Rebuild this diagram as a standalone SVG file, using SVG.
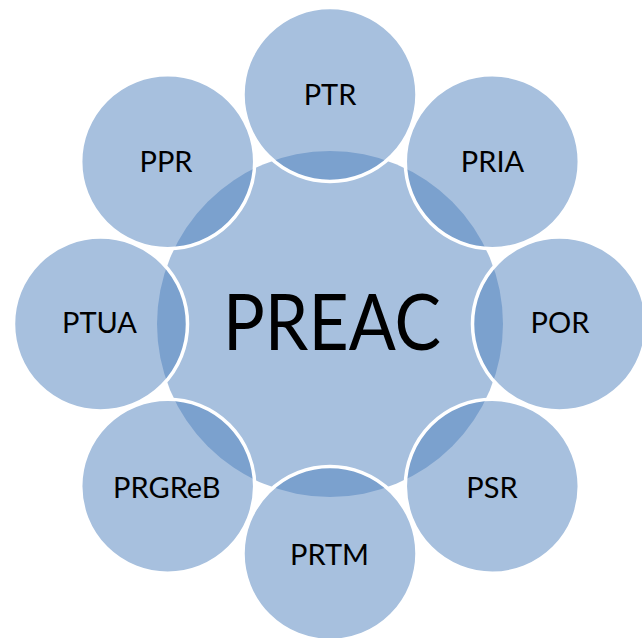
<svg xmlns="http://www.w3.org/2000/svg" width="642" height="638" viewBox="0 0 642 638">
<style>
.c{fill:#4f81bd;fill-opacity:0.5}
.o{fill:#4f81bd;fill-opacity:0.5;stroke:#ffffff;stroke-width:3.5}
.t{font-family:Lato,"Open Sans",sans-serif;font-size:29px;fill:#000;text-anchor:middle}
.big{font-family:Lato,"Open Sans",sans-serif;font-size:78px;fill:#000;text-anchor:middle}
</style>
<rect width="642" height="638" fill="#ffffff"/>
<g id="center"><circle class="c" cx="330" cy="324" r="173"/><text class="big" x="332" y="350" textLength="218" lengthAdjust="spacingAndGlyphs">PREAC</text></g>
<g id="ptr"><circle class="o" cx="330" cy="94.5" r="87"/><text class="t" x="330" y="105">PTR</text></g>
<g id="pria"><circle class="o" cx="492.3" cy="161.7" r="87"/><text class="t" x="492.5" y="172">PRIA</text></g>
<g id="por"><circle class="o" cx="559.5" cy="324" r="87"/><text class="t" x="560" y="333">POR</text></g>
<g id="psr"><circle class="o" cx="492.3" cy="486.3" r="87"/><text class="t" x="492" y="498">PSR</text></g>
<g id="prtm"><circle class="o" cx="330" cy="553.5" r="87"/><text class="t" x="329.5" y="565">PRTM</text></g>
<g id="prgreb"><circle class="o" cx="167.7" cy="486.3" r="87"/><text class="t" x="166.8" y="498">PRGReB</text></g>
<g id="ptua"><circle class="o" cx="100.5" cy="324" r="87"/><text class="t" x="99.5" y="333">PTUA</text></g>
<g id="ppr"><circle class="o" cx="167.7" cy="161.7" r="87"/><text class="t" x="166" y="172">PPR</text></g>
<g id="connectors"></g>
</svg>
